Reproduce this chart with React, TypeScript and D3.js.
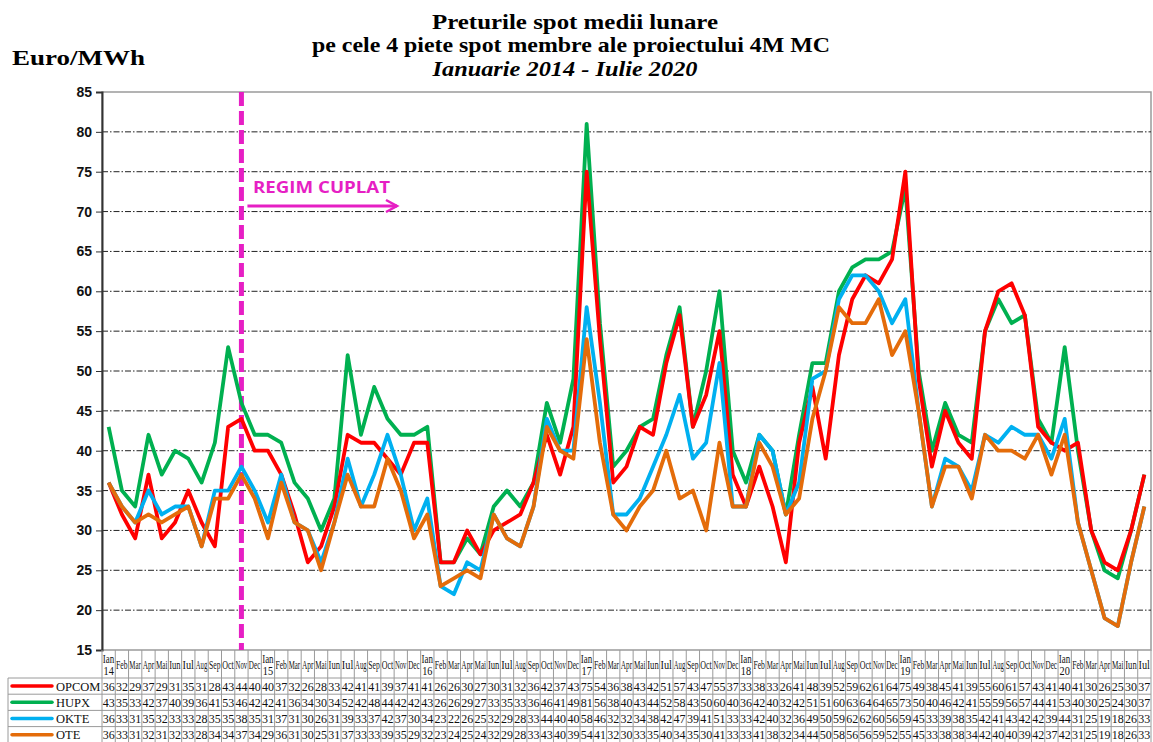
import React, { useRef, useEffect } from 'react';
import * as d3 from 'd3';

// Romanian month labels and years (Ianuarie 2014 - Iulie 2020)
const months = ['Ian', 'Feb', 'Mar', 'Apr', 'Mai', 'Iun', 'Iul', 'Aug', 'Sep', 'Oct', 'Nov', 'Dec'];
const years = ['14', '15', '16', '17', '18', '19', '20'];

// monthly average spot prices, Euro/MWh
const opcom = [36, 32, 29, 37, 29, 31, 35, 31, 28, 43, 44, 40,
  40, 37, 32, 26, 28, 33, 42, 41, 41, 39, 37, 41,
  41, 26, 26, 30, 27, 30, 31, 32, 36, 42, 37, 43,
  75, 54, 36, 38, 43, 42, 51, 57, 43, 47, 55, 37,
  33, 38, 33, 26, 41, 48, 39, 52, 59, 62, 61, 64,
  75, 49, 38, 45, 41, 39, 55, 60, 61, 57, 43, 41,
  40, 41, 30, 26, 25, 30, 37];
const hupx = [43, 35, 33, 42, 37, 40, 39, 36, 41, 53, 46, 42,
  42, 41, 36, 34, 30, 34, 52, 42, 48, 44, 42, 42,
  43, 26, 26, 29, 27, 33, 35, 33, 36, 46, 41, 49,
  81, 56, 38, 40, 43, 44, 52, 58, 43, 50, 60, 40,
  36, 42, 40, 32, 42, 51, 51, 60, 63, 64, 64, 65,
  73, 50, 40, 46, 42, 41, 55, 59, 56, 57, 44, 41,
  53, 40, 30, 25, 24, 30, 37];
const okte = [36, 33, 31, 35, 32, 33, 33, 28, 35, 35, 38, 35,
  31, 37, 31, 30, 26, 31, 39, 33, 37, 42, 37, 30,
  34, 23, 22, 26, 25, 32, 29, 28, 33, 44, 40, 40,
  58, 46, 32, 32, 34, 38, 42, 47, 39, 41, 51, 33,
  33, 42, 40, 32, 36, 49, 50, 59, 62, 62, 60, 56,
  59, 45, 33, 39, 38, 35, 42, 41, 43, 42, 42, 39,
  44, 31, 25, 19, 18, 26, 33];
const ote = [36, 33, 31, 32, 31, 32, 33, 28, 34, 34, 37, 34,
  29, 36, 31, 30, 25, 31, 37, 33, 33, 39, 35, 29,
  32, 23, 24, 25, 24, 32, 29, 28, 33, 43, 40, 39,
  54, 41, 32, 30, 33, 35, 40, 34, 35, 30, 41, 33,
  33, 41, 38, 32, 34, 44, 50, 58, 56, 56, 59, 52,
  55, 45, 33, 38, 38, 34, 42, 40, 40, 39, 42, 37,
  42, 31, 25, 19, 18, 26, 33];

const seriesNames = ['OPCOM', 'HUPX', 'OKTE', 'OTE'];
const yTicks = [15, 20, 25, 30, 35, 40, 45, 50, 55, 60, 65, 70, 75, 80, 85];
const couplingMonth = 10; // Nov 2014

const W = 1153;
const H = 742;
const SERIF = '"Liberation Serif", "Times New Roman", serif';

const App = () => {
  const svgRef = useRef<SVGSVGElement>(null);

  useEffect(() => {
    if (!svgRef.current) return;
    const svg = d3.select(svgRef.current);
    svg.selectAll('*').remove();

    const n = opcom.length;
    const categories: { m: string; y: string | null }[] = [];
    for (let i = 0; i < n; i++) {
      categories.push({ m: months[i % 12], y: i % 12 === 0 ? years[Math.floor(i / 12)] : null });
    }

    const series = [
      { name: 'OPCOM', values: opcom, color: '#ff0000' },
      { name: 'HUPX', values: hupx, color: '#00b050' },
      { name: 'OKTE', values: okte, color: '#00b0f0' },
      { name: 'OTE', values: ote, color: '#e46c0a' },
    ];

    const left = 102, right = 1151, top = 92, bottom = 650;

    const x = d3.scaleBand<number>()
      .domain(d3.range(n))
      .range([left, right])
      .padding(0);
    const cx = (i: number) => (x(i) as number) + x.bandwidth() / 2;

    const y = d3.scaleLinear().domain([15, 85]).range([bottom, top]);

    // titles
    const title = svg.append('g')
      .attr('font-family', SERIF)
      .attr('font-weight', 'bold')
      .attr('font-size', 22)
      .attr('text-anchor', 'middle');
    title.append('text').attr('x', 575).attr('y', 29)
      .attr('textLength', 286).attr('lengthAdjust', 'spacingAndGlyphs')
      .text('Preturile spot medii lunare');
    title.append('text').attr('x', 571).attr('y', 52)
      .attr('textLength', 518).attr('lengthAdjust', 'spacingAndGlyphs')
      .text('pe cele 4 piete spot membre ale proiectului 4M MC');
    title.append('text').attr('x', 565).attr('y', 76).attr('font-style', 'italic')
      .attr('textLength', 265).attr('lengthAdjust', 'spacingAndGlyphs')
      .text('Ianuarie 2014 - Iulie 2020');

    svg.append('text')
      .attr('x', 12).attr('y', 65)
      .attr('font-family', SERIF)
      .attr('font-weight', 'bold')
      .attr('font-size', 22)
      .attr('textLength', 133).attr('lengthAdjust', 'spacingAndGlyphs')
      .text('Euro/MWh');

    // plot frame
    svg.append('rect')
      .attr('x', left).attr('y', top)
      .attr('width', right - left).attr('height', bottom - top)
      .attr('fill', 'none').attr('stroke', '#9a9a9a').attr('stroke-width', 1.5);

    // grid lines
    svg.append('g')
      .selectAll('line')
      .data(yTicks.filter(t => t > 15 && t < 85))
      .enter()
      .append('line')
      .attr('x1', left).attr('x2', right)
      .attr('y1', d => y(d)).attr('y2', d => y(d))
      .attr('stroke', '#222')
      .attr('stroke-width', 1)
      .attr('stroke-dasharray', '6,2,1.5,2');

    // y axis
    const yAxis = svg.append('g')
      .attr('transform', `translate(${left},0)`)
      .call(d3.axisLeft(y).tickValues(yTicks).tickSize(6).tickPadding(4).tickFormat(d3.format('d')));
    yAxis.select('.domain').attr('stroke', '#333').attr('stroke-width', 2);
    yAxis.selectAll('.tick line').attr('stroke', '#333');
    yAxis.selectAll('text')
      .attr('font-family', '"Liberation Sans", Arial, sans-serif')
      .attr('font-weight', 'bold')
      .attr('font-size', 14)
      .attr('fill', '#111');

    // coupling marker
    const mx = cx(couplingMonth);
    const magenta = '#e61fc4';
    svg.append('line')
      .attr('x1', mx).attr('x2', mx)
      .attr('y1', top).attr('y2', bottom)
      .attr('stroke', magenta)
      .attr('stroke-width', 5)
      .attr('stroke-dasharray', '14,5');
    svg.append('text')
      .attr('x', 253).attr('y', 193)
      .attr('font-family', '"Open Sans", "DejaVu Sans", sans-serif')
      .attr('font-weight', 'bold')
      .attr('font-size', 16)
      .attr('textLength', 137).attr('lengthAdjust', 'spacingAndGlyphs')
      .attr('fill', magenta)
      .text('REGIM CUPLAT');
    svg.append('line')
      .attr('x1', mx + 6).attr('x2', 397)
      .attr('y1', 206).attr('y2', 206)
      .attr('stroke', magenta).attr('stroke-width', 3);
    svg.append('path')
      .attr('d', `M386,200 L397,206 L386,212`)
      .attr('fill', 'none').attr('stroke', magenta).attr('stroke-width', 2.5);

    // series lines (drawn so OTE ends on top)
    const line = d3.line<number>()
      .x((_, i) => cx(i))
      .y(d => y(d));
    const drawOrder = [1, 0, 2, 3];
    drawOrder.forEach(k => {
      svg.append('path')
        .datum(series[k].values)
        .attr('d', line)
        .attr('fill', 'none')
        .attr('stroke', series[k].color)
        .attr('stroke-width', 3.8)
        .attr('stroke-linejoin', 'round');
    });

    // data table
    const headTop = bottom, rowTop = 678, rowH = 16.2;
    const gridColor = '#9a9a9a';
    const table = svg.append('g');
    const bw = x.bandwidth();

    // column separators
    table.selectAll('line.col')
      .data(d3.range(n + 1))
      .enter()
      .append('line')
      .attr('class', 'col')
      .attr('x1', i => i < n ? (x(i) as number) : right)
      .attr('x2', i => i < n ? (x(i) as number) : right)
      .attr('y1', headTop).attr('y2', H)
      .attr('stroke', gridColor).attr('stroke-width', 1);

    // row separators
    table.selectAll('line.row')
      .data(d3.range(series.length + 1))
      .enter()
      .append('line')
      .attr('class', 'row')
      .attr('x1', 8).attr('x2', right)
      .attr('y1', r => rowTop + r * rowH).attr('y2', r => rowTop + r * rowH)
      .attr('stroke', gridColor).attr('stroke-width', 1);
    table.append('line')
      .attr('x1', 8).attr('x2', 8)
      .attr('y1', rowTop).attr('y2', H)
      .attr('stroke', gridColor);

    // header month labels, squeezed horizontally into their cells
    const head = table.append('g')
      .attr('font-family', SERIF)
      .attr('font-size', 12)
      .attr('fill', '#111');
    const squeeze = (label: string, x0: number, yb: number, maxW: number) => {
      const t = head.append('text').attr('x', 0).attr('y', 0).text(label);
      const w = (t.node() as SVGTextElement).getComputedTextLength() || maxW;
      const sx = Math.min(1, maxW / w);
      t.attr('transform', `translate(${x0},${yb}) scale(${sx},1)`);
    };
    categories.forEach((c, i) => {
      const x0 = x(i) as number;
      if (c.y) {
        squeeze(c.m, x0 + 0.8, headTop + 13, bw - 1.8);
        squeeze(c.y, x0 + 1.5, headTop + 25, bw - 3);
      } else {
        squeeze(c.m, x0 + 0.8, headTop + 19, bw - 1.8);
      }
    });

    // values rows + legend keys
    series.forEach((s, r) => {
      const ty = rowTop + r * rowH;
      table.append('line')
        .attr('x1', 12).attr('x2', 52)
        .attr('y1', ty + rowH / 2).attr('y2', ty + rowH / 2)
        .attr('stroke', s.color).attr('stroke-width', 3.5)
        .attr('stroke-linecap', 'round');
      table.append('text')
        .attr('x', 56).attr('y', ty + 12.5)
        .attr('font-family', SERIF)
        .attr('font-size', 12.5)
        .attr('fill', '#111')
        .text(seriesNames[r]);
      table.append('g')
        .selectAll('text')
        .data(s.values)
        .enter()
        .append('text')
        .attr('x', (_, i) => cx(i))
        .attr('y', ty + 12.5)
        .attr('text-anchor', 'middle')
        .attr('font-family', SERIF)
        .attr('font-size', 12)
        .attr('textLength', 12)
        .attr('lengthAdjust', 'spacingAndGlyphs')
        .attr('fill', '#111')
        .text(d => d);
    });
  }, []);

  return (
    <svg
      ref={svgRef}
      width={W}
      height={H}
      style={{ position: 'absolute', left: 0, top: 0, background: '#fff' }}
    />
  );
};

export default App;
